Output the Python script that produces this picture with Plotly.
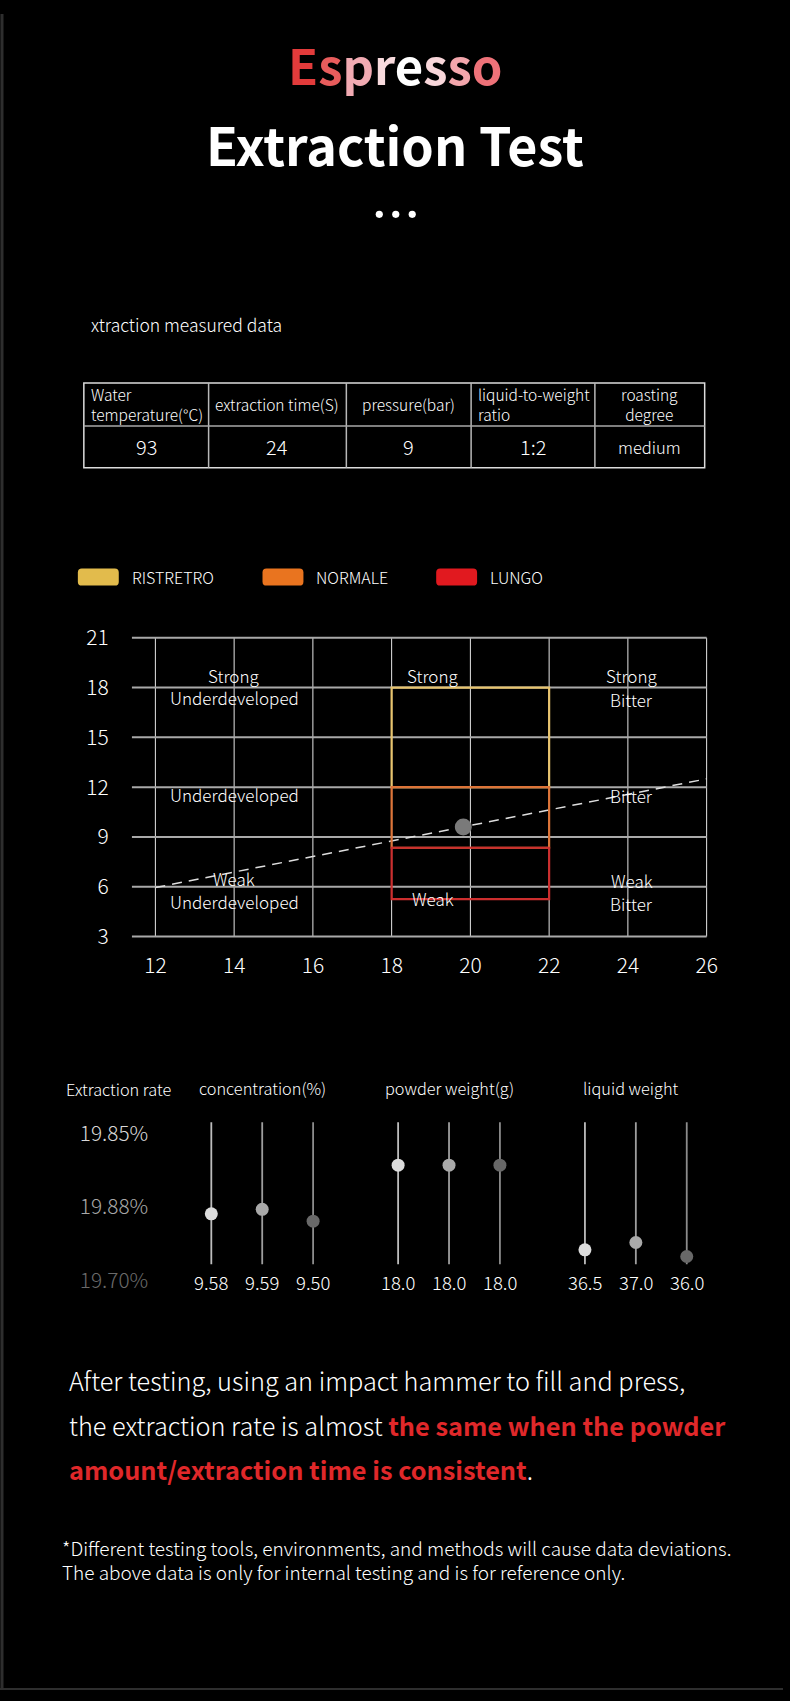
import plotly.graph_objects as go

W, H = 790, 1701
FONT = "Noto Sans CJK SC"
RED = "#e0282a"

# ── data ─────────────────────────────────────────────────────────────────────
title_word = "Espresso"
title_colors = ["#e23b3b", "#e85c5c", "#f1aab2", "#f8dadd", "#ffffff", "#f8d6da", "#f3a6ac", "#ee7279"]

table_headers = ["Water<br>temperature(°C)", "extraction time(S)", "pressure(bar)",
                 "liquid-to-weight<br>ratio", "roasting<br>degree"]
table_values = ["93", "24", "9", "1:2", "medium"]

zone_names = ["RISTRETRO", "NORMALE", "LUNGO"]
zone_colors = ["#e2bb4c", "#e9741f", "#e1191f"]
zone_edge = ["#e8c46e", "#dd7438", "#cc2e2e"]
zone_low = [12, 8.35, 5.25]
zone_high = [18, 12, 8.35]
zone_x = [18, 22]

grid_x = [12, 14, 16, 18, 20, 22, 24, 26]
grid_y = [3, 6, 9, 12, 15, 18, 21]

trend_x = [12, 26]
trend_y = [5.95, 12.5]
shot_x = [19.82]
shot_y = [9.6]

region_text = ["Strong", "Underdeveloped", "Strong", "Strong", "Bitter",
               "Underdeveloped", "Bitter", "Weak", "Underdeveloped", "Weak", "Weak", "Bitter"]
region_x = [14, 14, 19.05, 24.1, 24.1, 14, 24.1, 14, 14, 19.05, 24.1, 24.1]
region_y = [18.75, 17.4, 18.75, 18.75, 17.3, 11.55, 11.5, 6.5, 5.1, 5.3, 6.4, 5.0]

groups = ["concentration(%)", "powder weight(g)", "liquid weight"]
group_labels = [["9.58", "9.59", "9.50"], ["18.0", "18.0", "18.0"], ["36.5", "37.0", "36.0"]]
rate_pos = [[0.91, 0.97, 0.81], [1.57, 1.57, 1.57], [0.42, 0.52, 0.33]]
rate_ticks = ["19.70%", "19.88%", "19.85%"]
rate_tick_colors = ["#6a6a6a", "#a8a8a8", "#d8d8d8"]
stem_range = [0.226, 2.154]
shade = ["#dcdcdc", "#a9a9a9", "#686868"]
stem_shade = ["#bdbdbd", "#9e9e9e", "#8c8c8c"]

para_lines = [
    "After testing, using an impact hammer to fill and press,",
    "the extraction rate is almost <b><span style='color:" + RED + "'>the same when the powder</span></b>",
    "<b><span style='color:" + RED + "'>amount/extraction time is consistent</span></b>.",
]
note_lines = [
    "*Different testing tools, environments, and methods will cause data deviations.",
    "The above data is only for internal testing and is for reference only.",
]

# the captured picture comes out slightly shrunk and pushed down, so layout
# positions (measured on the picture) are mapped back to figure pixels here
OX, SX = -1.0, 0.993
OY, SY = 12.2, 0.9874


def fx(x):
    return (x - OX) / SX


def fy(y):
    return (y - OY) / SY


def px(x):
    return fx(x) / W


def py(y):
    return 1 - fy(y) / H


def rounded(x0, y0, x1, y1, r):
    rx, ry = r / W, r / H
    a0, a1, b0, b1 = px(x0), px(x1), py(y1), py(y0)
    return (f"M{a0+rx},{b0} L{a1-rx},{b0} Q{a1},{b0} {a1},{b0+ry} L{a1},{b1-ry} "
            f"Q{a1},{b1} {a1-rx},{b1} L{a0+rx},{b1} Q{a0},{b1} {a0},{b1-ry} "
            f"L{a0},{b0+ry} Q{a0},{b0} {a0+rx},{b0} Z")


fig = go.Figure()
shapes = []
ann = []


def text(x, y, s, size, color="#ffffff", anchor="center", bold=False, xref="paper", yref="paper", weight=None):
    if xref == "paper":
        x = px(x)
    if yref == "paper":
        y = py(y)
    f = dict(family=FONT, size=size, color=color)
    if weight:
        f["weight"] = weight
    ann.append(dict(x=x, y=y, xref=xref, yref=yref, text=f"<b>{s}</b>" if bold else s,
                    showarrow=False, xanchor=anchor, yanchor="middle", align=anchor,
                    font=f))


# ── header ───────────────────────────────────────────────────────────────────
word = "".join(f"<span style='color:{c}'>{ch}</span>" for ch, c in zip(title_word, title_colors))
text(395, 62, word, 49, bold=True)
text(395, 142, "Extraction Test", 52, bold=True)
for cx in [379, 395.5, 412]:
    shapes.append(dict(type="circle", xref="paper", yref="paper", x0=px(cx - 3.6), x1=px(cx + 3.6),
                       y0=py(213 + 3.6), y1=py(213 - 3.6), fillcolor="#ffffff", line=dict(width=0)))

# ── table ────────────────────────────────────────────────────────────────────
text(88, 323, "xtraction measured data", 17.5, anchor="left", weight=300)
col_edges = [83, 208, 346, 471, 595, 705]
row_edges = [382, 425, 467]
shapes.append(dict(type="rect", xref="paper", yref="paper", x0=px(col_edges[0]), x1=px(col_edges[-1]),
                   y0=py(row_edges[0]), y1=py(row_edges[-1]), line=dict(color="#dcdcdc", width=1.5)))
for cx in col_edges[1:-1]:
    shapes.append(dict(type="line", xref="paper", yref="paper", x0=px(cx), x1=px(cx),
                       y0=py(row_edges[0]), y1=py(row_edges[-1]), line=dict(color="#b8b8b8", width=1.5)))
shapes.append(dict(type="line", xref="paper", yref="paper", x0=px(col_edges[0]), x1=px(col_edges[-1]),
                   y0=py(row_edges[1]), y1=py(row_edges[1]), line=dict(color="#a8a8a8", width=1.5)))
left_cols = {0, 3}
for i, (h, v) in enumerate(zip(table_headers, table_values)):
    c0, c1 = col_edges[i], col_edges[i + 1]
    if i in left_cols:
        text(c0 + 5, 403, h, 15.5, anchor="left", weight=300)
    else:
        text((c0 + c1) / 2, 403, h, 15.5, weight=300)
    text((c0 + c1) / 2, 446, v, 16.5 if v == "medium" else 20, weight=300)

# ── legend ───────────────────────────────────────────────────────────────────
leg_x = [77, 262, 436]
for lx, name, col in zip(leg_x, zone_names, zone_colors):
    shapes.append(dict(type="path", xref="paper", yref="paper", path=rounded(lx, 568, lx + 41, 585, 4),
                       fillcolor=col, line=dict(width=0)))
    text(lx + 52, 576, name, 16, anchor="left", weight=300)

# ── main chart ───────────────────────────────────────────────────────────────
for gx in grid_x:
    shapes.append(dict(type="line", xref="x", yref="y", x0=gx, x1=gx, y0=grid_y[0], y1=grid_y[-1],
                       line=dict(color="#e6e6e6", width=1), layer="below"))
for gy in grid_y:
    shapes.append(dict(type="line", xref="x", yref="y", x0=11.4, x1=grid_x[-1], y0=gy, y1=gy,
                       line=dict(color="#a9a9a9", width=2), layer="below"))
for lo, hi, col in zip(zone_low, zone_high, zone_edge):
    shapes.append(dict(type="rect", xref="x", yref="y", x0=zone_x[0], x1=zone_x[1], y0=lo, y1=hi,
                       line=dict(color=col, width=2.2), fillcolor="rgba(0,0,0,0)"))

for t, x, y in zip(region_text, region_x, region_y):
    text(x, y, t, 17, xref="x", yref="y", weight=300)

fig.add_trace(go.Scatter(x=trend_x, y=trend_y, mode="lines", hoverinfo="skip",
                         line=dict(color="#dedede", width=1.5, dash="10px,7px")))
fig.add_trace(go.Scatter(x=shot_x, y=shot_y, mode="markers",
                         marker=dict(size=17, color="#7a7a7a", line=dict(width=0))))

# ── bottom dot chart ─────────────────────────────────────────────────────────
text(118, 1089, "Extraction rate", 16.3, weight=300)
GAP = 1.67
for g, (name, labels, rates) in enumerate(zip(groups, group_labels, rate_pos)):
    xs = [g * (2 + GAP) + i for i in range(3)]
    mid_px = 210.7 + (xs[1]) * 51
    text(mid_px - (5 if g == 2 else 0), 1088, name, 16.3, weight=300)
    for i, (x, lab, r) in enumerate(zip(xs, labels, rates)):
        fig.add_trace(go.Scatter(x=[x, x], y=stem_range, mode="lines", xaxis="x2", yaxis="y2",
                                 line=dict(color=stem_shade[i], width=1.8), hoverinfo="skip"))
        text(x, -0.02, lab, 18.5, xref="x2", yref="y2", weight=300)
    fig.add_trace(go.Scatter(x=xs, y=rates, mode="markers", xaxis="x2", yaxis="y2",
                             marker=dict(size=13, color=shade, line=dict(width=0))))

# ── paragraph ────────────────────────────────────────────────────────────────
for i, line in enumerate(para_lines):
    text(66, 1381 + i * 44.8, line, 25.3, anchor="left", weight=300)
for i, line in enumerate(note_lines):
    text(59, 1549 + i * 24, line, 19, anchor="left", weight=300)

# frame edges
shapes.append(dict(type="line", xref="paper", yref="paper", x0=px(1), x1=px(1), y0=0, y1=1,
                   line=dict(color="#2e2e2e", width=3)))
shapes.append(dict(type="line", xref="paper", yref="paper", x0=0, x1=1, y0=0.0006, y1=0.0006,
                   line=dict(color="#2e2e2e", width=2)))

tick_text = [f"<span style='color:{c}'>{t}</span>" for t, c in zip(rate_ticks, rate_tick_colors)]

fig.update_layout(
    width=W, height=H, margin=dict(l=0, r=0, t=0, b=0),
    paper_bgcolor="#000000", plot_bgcolor="#000000", showlegend=False,
    font=dict(family=FONT, color="#ffffff"),
    shapes=shapes, annotations=ann,
    xaxis=dict(domain=[px(131), px(710.9)], range=[11.4, 26.1], tickvals=grid_x,
               showgrid=False, zeroline=False, showline=False, ticks="",
               tickfont=dict(size=21, color="#ffffff", weight=300), ticklabelstandoff=12, fixedrange=True),
    yaxis=dict(domain=[py(939.2), py(634.8)], range=[2.85, 21.15], tickvals=grid_y,
               showgrid=False, zeroline=False, showline=False, ticks="",
               tickfont=dict(size=21, color="#ffffff", weight=300), ticklabelstandoff=22, fixedrange=True),
    xaxis2=dict(domain=[px(149.5), px(720.7)], range=[-1.2, 10], anchor="y2",
                showgrid=False, zeroline=False, showline=False, showticklabels=False, fixedrange=True),
    yaxis2=dict(domain=[py(1318.6), py(1060.3)], range=[-0.5, 3], anchor="x2",
                tickvals=[0, 1, 2], ticktext=tick_text, showgrid=False, zeroline=False,
                showline=False, ticks="", tickfont=dict(size=20.8, weight=300), ticklabelstandoff=1,
                fixedrange=True),
)

page_js = ("var gd=document.getElementById('{plot_id}');"
           "gd.style.position='absolute';gd.style.left='0';gd.style.top='0';"
           "document.body.style.margin='0';document.body.style.overflow='hidden';"
           "document.body.style.background='#000';")
fig.write_html("out.html", config={"displayModeBar": False}, post_script=page_js)
